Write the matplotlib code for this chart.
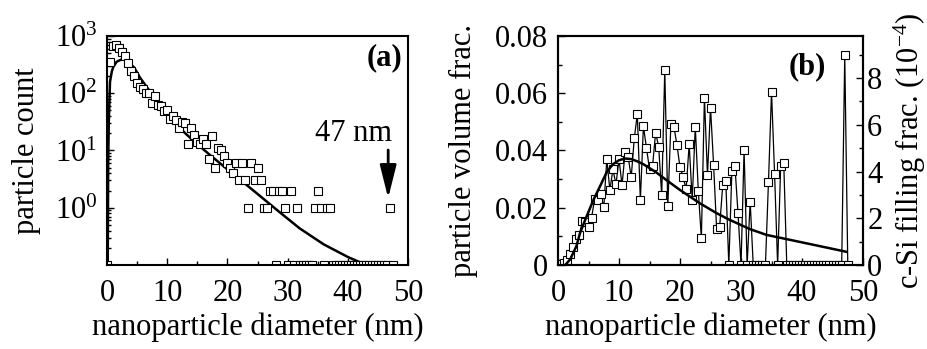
import numpy as np
import matplotlib
matplotlib.use("Agg")
from matplotlib import pyplot as plt
from matplotlib.ticker import MultipleLocator, FixedLocator, LogLocator, NullFormatter, LogFormatterMathtext

plt.rcParams['font.family'] = 'Liberation Serif'
plt.rcParams['mathtext.fontset'] = 'custom'
plt.rcParams['mathtext.rm'] = 'Liberation Serif'
plt.rcParams['mathtext.it'] = 'Liberation Serif:italic'
plt.rcParams['mathtext.bf'] = 'Liberation Serif:bold'
plt.rcParams['font.size'] = 22
plt.rcParams['axes.linewidth'] = 1.5
plt.rcParams['xtick.direction'] = 'in'
plt.rcParams['ytick.direction'] = 'in'

# histogram bins (nm), 0.5 nm wide
diameter = np.arange(0, 48, 0.5)

# particle count per bin
counts = [0, 350, 680, 690, 620, 520, 450, 340, 240, 200,
          150, 130, 120, 102, 102, 68, 90, 62, 60, 48,
          50, 36, 40, 34, 25, 32, 30, 13, 25, 19,
          14, 13, 16, 13, 7, 18, 5, 11, 10, 8,
          6, 5, 4, 6, 3, 6, 3, 1, 6, 3,
          5, 3, 1, 1, 2, 2, 0, 2, 2, 1,
          0, 2, 0, 1, 0, 0, 0, 0, 0, 1,
          2, 1, 0, 1, 1, 0, 0, 0, 0, 0,
          0, 0, 0, 0, 0, 0, 0, 0, 0, 0,
          0, 0, 0, 0, 1, 0]

# volume fraction per bin
vol_frac = [0, 0.0003, 0.0008, 0.0017, 0.0038, 0.0062, 0.0090, 0.0105, 0.0154, 0.0150,
            0.0132, 0.0165, 0.0230, 0.0227, 0.0248, 0.0201, 0.0369, 0.0262, 0.0334, 0.0282,
            0.0369, 0.0279, 0.0395, 0.0378, 0.0306, 0.0442, 0.0527, 0.0227, 0.0485, 0.0409,
            0.0334, 0.0346, 0.0462, 0.0413, 0.0244, 0.0681, 0.0207, 0.0491, 0.0483, 0.0419,
            0.0341, 0.0308, 0.0264, 0.0422, 0.0227, 0.0483, 0.0259, 0.0093, 0.0585, 0.0313,
            0.0550, 0.0351, 0.0126, 0.0134, 0.0279, 0.0294, 0, 0.0328, 0.0346, 0.0183,
            0, 0.0401, 0, 0.0221, 0, 0, 0, 0, 0, 0.0291,
            0.0605, 0.0318, 0, 0.0346, 0.0358, 0, 0, 0, 0, 0,
            0, 0, 0, 0, 0, 0, 0, 0, 0, 0,
            0, 0, 0, 0, 0.0733, 0]

# log-normal fit, count distribution
fit_d_a = [0.12, 0.2, 0.3, 0.5, 0.8, 1.05, 1.6, 2.4, 3.2, 4.5, 5.5, 7, 9, 10.7,
           13, 14.9, 17, 19.9, 22, 24.9, 28.7, 32, 36, 40, 43.7, 45]
fit_log_a = [-1.0, 0.8, 1.5, 2.2, 2.38, 2.46, 2.55, 2.59, 2.58, 2.45, 2.27, 2.05, 1.80, 1.55,
             1.30, 1.12, 0.93, 0.68, 0.50, 0.25, -0.08, -0.36, -0.64, -0.86, -1.03, -1.1]

# same fit, volume weighted
fit_d_b = [1.2, 2, 3, 3.6, 4.5, 5.8, 7, 8, 9, 10, 11, 12, 13, 14, 16, 18, 20,
           23.3, 26, 28, 31.5, 34.2, 38, 42, 47.3]
fit_vol = [0, 0.002, 0.0065, 0.0111, 0.016, 0.0227, 0.028, 0.0325, 0.0352, 0.0366, 0.0372,
           0.0370, 0.0362, 0.0352, 0.0325, 0.0293, 0.0262, 0.0215, 0.0181, 0.0159, 0.0125,
           0.0105, 0.0088, 0.0070, 0.0046]

vol_to_fill = 122.5  # volume frac -> c-Si filling frac (1e-4)

fig = plt.figure(figsize=(9.28, 3.49), dpi=100)
ax1 = fig.add_axes([0.1153, 0.2407, 0.3244, 0.6562])
ax2 = fig.add_axes([0.6013, 0.2407, 0.3287, 0.6562])

mk = dict(marker='s', ms=5.5, mfc='white', mec='k', mew=0.8)

# (a) counts, log scale; empty bins sit on the bottom axis
ymin = 0.1
cnt = np.array(counts, dtype=float)
ax1.plot(fit_d_a, 10 ** np.array(fit_log_a), 'k-', lw=1.8)
ax1.plot(diameter, np.where(cnt > 0, cnt, ymin), ls='none', **mk)
ax1.set_yscale('log')
ax1.set_xlim(0, 50)
ax1.set_ylim(ymin, 1000)
ax1.yaxis.set_major_locator(FixedLocator([1, 10, 100, 1000]))
ax1.yaxis.set_major_formatter(LogFormatterMathtext())
ax1.yaxis.set_minor_locator(LogLocator(base=10, subs=np.arange(2, 10)))
ax1.yaxis.set_minor_formatter(NullFormatter())
ax1.xaxis.set_major_locator(MultipleLocator(10))
ax1.xaxis.set_minor_locator(MultipleLocator(5))
ax1.tick_params(which='both', top=False, right=False, width=1)
ax1.tick_params(which='major', length=5)
ax1.tick_params(axis='x', which='major', pad=10)
ax1.tick_params(axis='y', which='major', pad=7)
ax1.tick_params(which='minor', length=3)
ax1.set_xlabel('nanoparticle diameter (nm)', labelpad=3)
ax1.set_ylabel('particle count', labelpad=10)
ax1.text(0.923, 0.905, '(a)', transform=ax1.transAxes, fontweight='bold',
         ha='center', va='center')
ax1.text(41, 19.5, '47 nm', ha='center', va='center')
ax1.annotate('', xy=(46.7, 1.47), xytext=(46.7, 10.2),
             arrowprops=dict(arrowstyle='-|>,head_length=0.56,head_width=0.14',
                             color='k', lw=2, mutation_scale=36,
                             shrinkA=0, shrinkB=0))

# (b) volume fraction with filling fraction on the right
ax2.plot(diameter, vol_frac, 'k-', lw=0.9, **mk)
ax2.plot(fit_d_b, fit_vol, 'k-', lw=1.8)
ax2.set_xlim(0, 50)
ax2.set_ylim(0, 0.08)
ax2.set_yticks([0, 0.02, 0.04, 0.06, 0.08])
ax2.set_yticklabels(['0', '0.02', '0.04', '0.06', '0.08'])
ax2.yaxis.set_minor_locator(MultipleLocator(0.01))
ax2.xaxis.set_major_locator(MultipleLocator(10))
ax2.xaxis.set_minor_locator(MultipleLocator(5))
ax2.tick_params(which='both', top=False, right=False, width=1)
ax2.tick_params(which='major', length=5)
ax2.tick_params(axis='x', which='major', pad=10)
ax2.tick_params(axis='y', which='major', pad=7)
ax2.tick_params(which='minor', length=3)
ax2.set_xlabel('nanoparticle diameter (nm)', labelpad=3)
ax2.set_ylabel('particle volume frac.', labelpad=12)
ax2.text(0.816, 0.865, '(b)', transform=ax2.transAxes, fontweight='bold',
         ha='center', va='center')

ax3 = ax2.twinx()
ax3.set_ylim(0, 0.08 * vol_to_fill)
ax3.yaxis.set_major_locator(MultipleLocator(2))
ax3.yaxis.set_minor_locator(MultipleLocator(1))
ax3.tick_params(which='both', width=1)
ax3.tick_params(which='major', length=5, pad=3)
ax3.tick_params(which='minor', length=3)
ax3.set_ylabel('c-Si filling frac. (10$^{-4}$)', labelpad=7)

fig.savefig('out.png', dpi=100)
